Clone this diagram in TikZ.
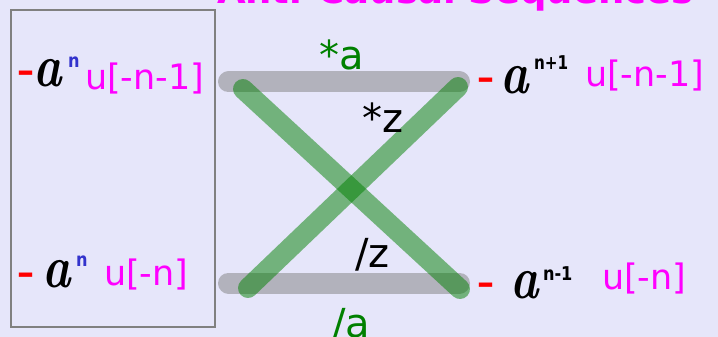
\documentclass[tikz,border=0pt]{standalone}
\usepackage{fontspec}
\newfontfamily\dv{DejaVu Sans}
\usepackage{graphicx}
\definecolor{lav}{RGB}{230,230,250}
\definecolor{mag}{RGB}{255,0,255}
\definecolor{gr}{RGB}{0,128,0}
\definecolor{supblue}{RGB}{51,51,204}
\definecolor{boxgray}{RGB}{128,128,128}
\newcommand{\handa}{{\fontsize{60}{60}\selectfont\bfseries\itshape a}}
\begin{document}
\begin{tikzpicture}[x=1pt,y=-1pt,
  lbl/.style={anchor=base west,inner sep=0pt,outer sep=0pt},
  seqtxt/.style={lbl,text=mag,font=\dv\fontsize{35}{35}\selectfont},
  optxt/.style={lbl,font=\dv\fontsize{40}{40}\selectfont},
  minus/.style={lbl,text=red,font=\dv\bfseries\fontsize{34}{34}\selectfont},
  avar/.style={lbl,text=black},
  suptxt/.style={lbl,font=\dv\bfseries\fontsize{19}{19}\selectfont},
  graybar/.style={draw=boxgray,draw opacity=0.5,line width=21pt,line cap=round},
  greenbar/.style={draw=gr,draw opacity=0.5,line width=20pt,line cap=round}]
\useasboundingbox (0,0) rectangle (718,337);
\fill[lav] (0,0) rectangle (718,337);
% title
\node[lbl,text=mag,font=\dv\bfseries\fontsize{37}{37}\selectfont] (title) at (217,4) {Anti-Causal Sequences};
% left box
\draw[boxgray,line width=2pt] (11,10) rectangle (215,327);
% connector end points
\coordinate (tl) at (228.5,82);
\coordinate (tr) at (459.5,82);
\coordinate (bl) at (228.5,283);
\coordinate (br) at (459.5,283);
\coordinate (ga) at (243,89);
\coordinate (gb) at (460,289);
\coordinate (gc) at (458,87);
\coordinate (gd) at (248,288);
\draw[graybar] (tl) -- (tr);
\draw[graybar] (bl) -- (br);
\draw[greenbar] (ga) -- (gb);
\draw[greenbar] (gc) -- (gd);
% operator labels
\node[optxt,text=gr] (sa) at (319,70) {*a};
\node[optxt,text=black] (sz) at (362,132) {*z};
\node[optxt,text=black] (dz) at (355,267) {/z};
\node[optxt,text=gr] (da) at (332,337) {/a};
% left top
\node[minus] (m1) at (17,83) {–};
\node[avar] (a1) at (34,87) {\scalebox{0.8}[1]{\handa}};
\node[suptxt,text=supblue] (s1) at (68,68) {\scalebox{0.85}[1]{n}};
\node[seqtxt] (u1) at (85,90) {u[-n-1]};
% left bottom
\node[minus] (m2) at (17,284) {–};
\node[avar] (a2) at (42,287) {\scalebox{0.8}[1]{\handa}};
\node[suptxt,text=supblue] (s2) at (76,266) {\scalebox{0.85}[1]{n}};
\node[seqtxt] (u2) at (104,285) {u[-n]};
% right top
\node[minus] (m3) at (477,89) {–};
\node[avar] (a3) at (500,93) {\scalebox{0.8}[1]{\handa}};
\node[suptxt,text=black] (s3) at (534,70) {\scalebox{0.8}[1]{n+1}};
\node[seqtxt] (u3) at (585,86) {u[-n-1]};
% right bottom
\node[minus] (m4) at (477,294) {–};
\node[avar] (a4) at (510,298) {\scalebox{0.8}[1]{\handa}};
\node[suptxt,text=black] (s4) at (543,280) {\scalebox{0.85}[1]{n-1}};
\node[seqtxt] (u4) at (602,289) {u[-n]};
\end{tikzpicture}
\end{document}
